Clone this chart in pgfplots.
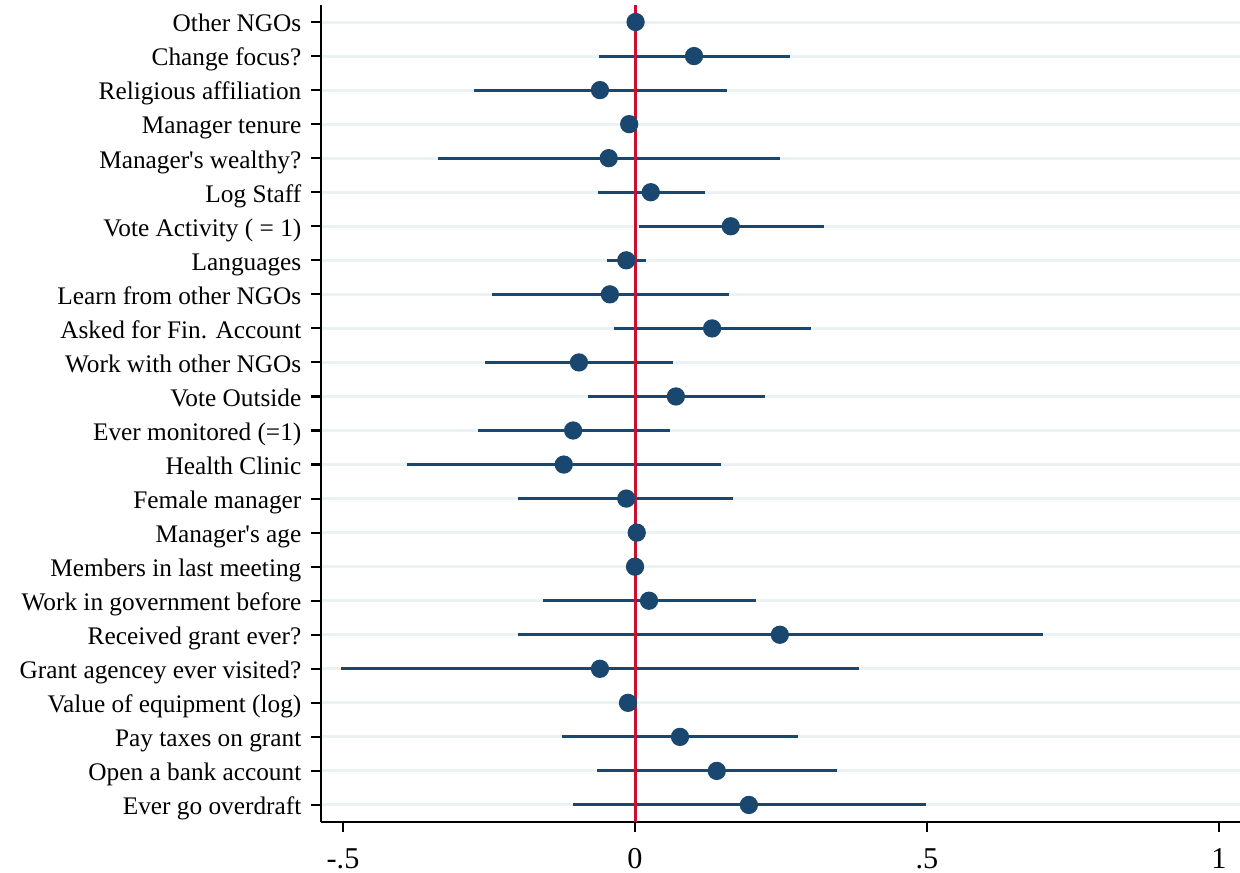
\documentclass[border=0pt]{standalone}
\usepackage{pgfplots}
\pgfplotsset{compat=1.18}
\usepackage{pgfplotstable}
\usepackage{fontspec}
\setmainfont{Liberation Serif}
\definecolor{navy}{HTML}{1A476F}
\definecolor{cran}{HTML}{C8102E}
\definecolor{gridc}{HTML}{EAF2F3}
\pgfplotstableread{
row est lo hi
1 0.001 -0.003 0.005
2 0.101 -0.062 0.265
3 -0.060 -0.276 0.158
4 -0.010 -0.016 -0.004
5 -0.045 -0.337 0.248
6 0.027 -0.063 0.120
7 0.164 0.007 0.324
8 -0.015 -0.048 0.019
9 -0.043 -0.245 0.161
10 0.132 -0.036 0.301
11 -0.096 -0.257 0.065
12 0.070 -0.080 0.223
13 -0.106 -0.269 0.060
14 -0.122 -0.390 0.147
15 -0.015 -0.200 0.168
16 0.003 0.001 0.005
17 0.000 -0.001 0.001
18 0.024 -0.158 0.207
19 0.248 -0.200 0.699
20 -0.060 -0.503 0.384
21 -0.012 -0.014 -0.010
22 0.077 -0.125 0.279
23 0.140 -0.065 0.346
24 0.195 -0.106 0.498
}\coef
\begin{document}
\begin{tikzpicture}
\useasboundingbox (0,0) rectangle (124mm,87.3mm);
\begin{axis}[
  scale only axis,
  at={(32.1mm,5.1mm)}, anchor=south west,
  width=91.9mm, height=81.7mm,
  xmin=-0.5377, xmax=1.0359,
  ymin=0.5, ymax=24.5, y dir=reverse,
  axis x line*=bottom, axis y line*=left,
  axis line style={line width=0.6pt, -},
  xtick={-0.5,0,0.5,1},
  xticklabels={-.5,0,.5,1},
  ytick={1,...,24},
  yticklabels={Other NGOs,Change focus?,Religious affiliation\ ,Manager tenure,Manager\textquotesingle s wealthy?,Log Staff,Vote Activity ( = 1),Languages,Learn from other NGOs,Asked for Fin. Account,Work with other NGOs,Vote Outside,Ever monitored (=1),Health Clinic,Female manager,Manager\textquotesingle s age,Members in last meeting,Work in government before,Received grant ever?,Grant agencey ever visited?,Value of equipment (log),Pay taxes on grant,Open a bank account,Ever go overdraft},
  tick align=outside,
  tick style={line width=0.6pt, black},
  major tick length=2.8pt,
  ymajorgrids,
  major grid style={gridc, line width=0.85pt},
  yticklabel style={font=\fontsize{7.2}{8}\selectfont, inner sep=0pt, anchor=base east, xshift=-2.6pt, yshift=-2.8pt},
  xticklabel style={font=\fontsize{8.6}{10}\selectfont, inner sep=0pt, yshift=-4.5pt},
  /pgf/number format/assume math mode=true,
  clip=false,
]
\addplot[navy, line width=0.85pt, draw=none,
  error bars/.cd, x dir=both, x explicit, error mark=none,
  error bar style={navy, line width=0.85pt}]
  table[x=est, y=row, x error plus expr=\thisrow{hi}-\thisrow{est}, x error minus expr=\thisrow{est}-\thisrow{lo}] {\coef};
\addplot[cran, line width=0.85pt] coordinates {(0,0.5) (0,24.5)};
\addplot[only marks, mark=*, mark size=2.4pt, mark options={fill=navy, draw=navy}]
  table[x=est, y=row] {\coef};
\end{axis}
\end{tikzpicture}
\end{document}
